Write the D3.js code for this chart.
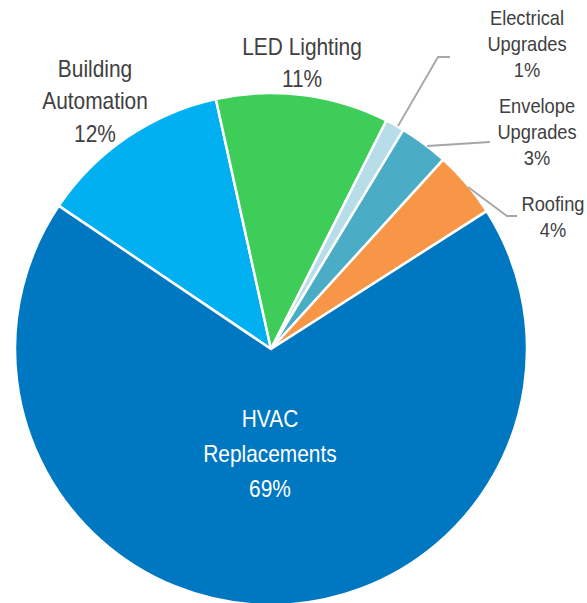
<!DOCTYPE html>
<html>
<head>
<meta charset="utf-8">
<script src="https://cdn.jsdelivr.net/npm/d3@7"></script>
<style>
  html, body { margin: 0; padding: 0; background: #ffffff; }
  svg { display: block; }
  text { font-family: "Liberation Sans", Arial, sans-serif; }
</style>
</head>
<body>
<svg id="chart" width="587" height="603"></svg>
<script>
// ---- data ----
const categories = ["Building Automation", "LED Lighting", "Electrical Upgrades", "Envelope Upgrades", "Roofing", "HVAC Replacements"];
const labelLines = [["Building", "Automation"], ["LED Lighting"], ["Electrical", "Upgrades"], ["Envelope", "Upgrades"], ["Roofing"], ["HVAC", "Replacements"]];
const values = [12.1, 10.9, 1.2, 3.1, 4.2, 68.5];
const colors = ["#00B0F0", "#3ECD58", "#B6DDE8", "#4BACC6", "#F79646", "#0077C1"];

// ---- layout ----
const W = 587, H = 603;
const cx = 271, cy = 349, R = 256;
const startDeg = -56;

const svg = d3.select("#chart");
svg.append("rect").attr("width", W).attr("height", H).attr("fill", "#fff");

const pie = d3.pie().sort(null).value(d => d)
  .startAngle(startDeg * Math.PI / 180)
  .endAngle(startDeg * Math.PI / 180 + 2 * Math.PI);
const arc = d3.arc().innerRadius(0).outerRadius(R);

const g = svg.append("g").attr("transform", `translate(${cx},${cy})`);
g.selectAll("path").data(pie(values)).join("path")
  .attr("d", arc)
  .attr("fill", (d, i) => colors[i])
  .attr("stroke", "#fff")
  .attr("stroke-width", 2.5)
  .attr("stroke-linejoin", "round");

// label placement (center x, first baseline, line spacing, font size, color)
const labelPos = [
  { x: 95,  y: 77,  dy: 32.5, fs: 24, fill: "#404040" },
  { x: 302, y: 55,  dy: 32,   fs: 24, fill: "#404040" },
  { x: 527, y: 25,  dy: 26,   fs: 21, fill: "#404040" },
  { x: 537, y: 113, dy: 26,   fs: 21, fill: "#404040" },
  { x: 553, y: 211, dy: 26,   fs: 21, fill: "#404040" },
  { x: 270, y: 427, dy: 35,   fs: 24, fill: "#ffffff" }
];
const sx = 0.87;

categories.forEach((c, i) => {
  const p = labelPos[i];
  const lines = labelLines[i].concat([Math.round(values[i]) + "%"]);
  const t = svg.append("text")
    .attr("transform", `translate(${p.x},${p.y}) scale(${sx},1)`)
    .attr("text-anchor", "middle")
    .attr("font-size", p.fs)
    .attr("fill", p.fill);
  lines.forEach((ln, k) => {
    t.append("tspan").attr("x", 0).attr("y", k * p.dy).text(ln);
  });
});

// leader lines
const leaders = [
  [[398, 126], [438, 57], [450, 57]],
  [[427, 146], [490, 142]],
  [[468, 187], [507, 216], [517, 216]]
];
svg.selectAll("path.leader").data(leaders).join("path")
  .attr("class", "leader")
  .attr("d", d3.line())
  .attr("fill", "none")
  .attr("stroke", "#A6A6A6")
  .attr("stroke-width", 1.8);
</script>
</body>
</html>
